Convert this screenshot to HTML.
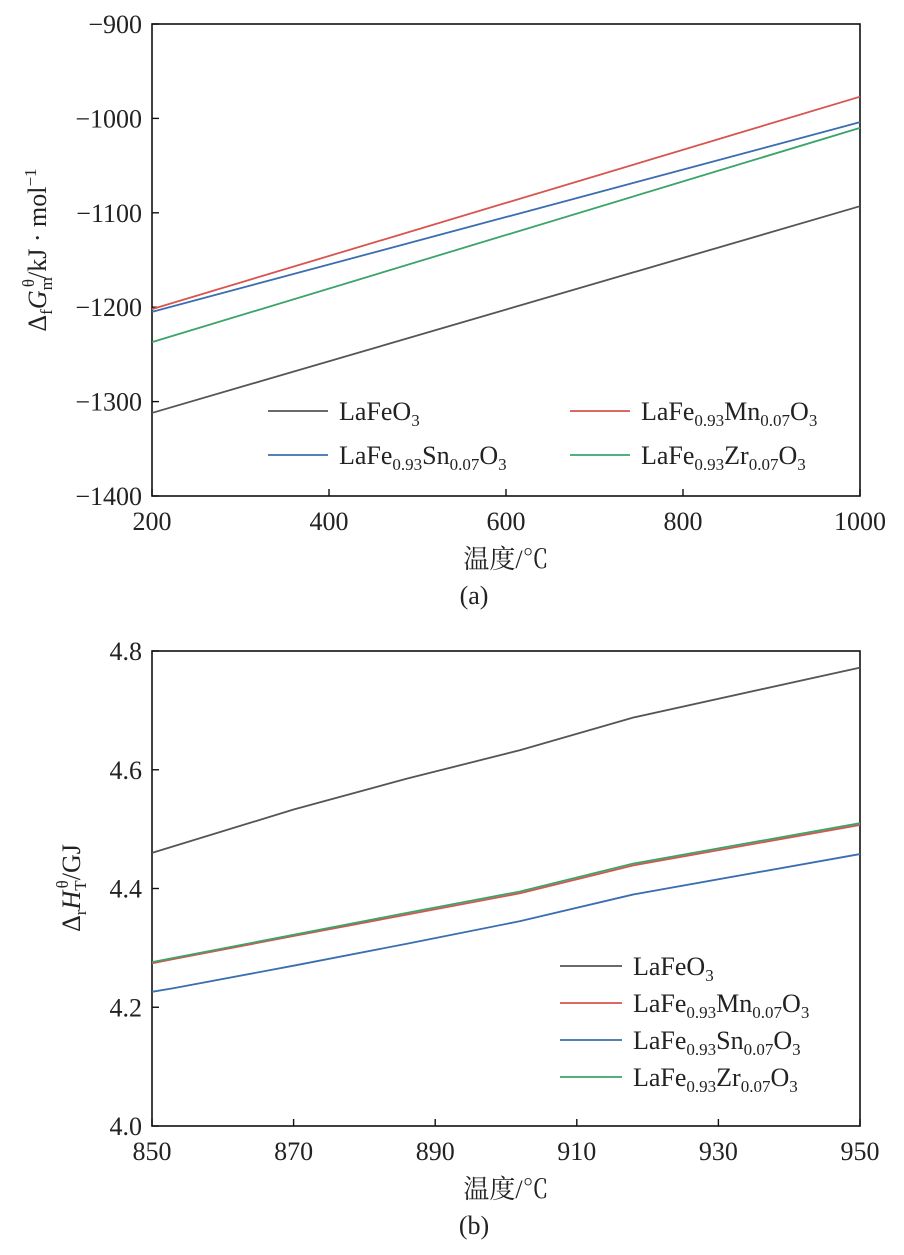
<!DOCTYPE html>
<html><head><meta charset="utf-8"><style>
body{margin:0;background:#fff}
svg{display:block;font-family:"Liberation Serif","Noto Serif CJK SC",serif}
text{fill:#222}
</style></head><body>
<svg width="904" height="1255">
<g id="ga"></g>
<g id="gb"></g>
</svg>
<script>
const NS="http://www.w3.org/2000/svg";
const colors=["#555555","#d9534f","#3a6eb0","#3aa46a"];
const seriesNames=["LaFeO","LaFe0.93Mn0.07O","LaFe0.93Sn0.07O","LaFe0.93Zr0.07O"];
// chart a
const aX=[200,1000];
const aLaFe=[-1312,-1093];
const aMn=[-1202,-977];
const aSn=[-1205,-1004];
const aZr=[-1237,-1010];
const aXTicks=[200,400,600,800,1000];
const aYTicks=[-900,-1000,-1100,-1200,-1300,-1400];
// chart b
const bX=[850,853,870,886,902,918,950];
const bLaFe=[4.46,4.471,4.533,4.585,4.633,4.688,4.772];
const bMn=[4.274,4.281,4.32,4.356,4.392,4.439,4.507];
const bSn=[4.226,4.232,4.27,4.307,4.345,4.39,4.458];
const bZr=[4.276,4.283,4.322,4.359,4.395,4.442,4.51];
const bXTicks=[850,870,890,910,930,950];
const bYTicks=[4.0,4.2,4.4,4.6,4.8];

function el(p,t,a){const e=document.createElementNS(NS,t);for(const k in a)e.setAttribute(k,a[k]);p.appendChild(e);return e;}
function chart(g,cfg){
  const L=152,R=860,T=cfg.T,B=cfg.B;
  const sx=v=>L+(v-cfg.x0)/(cfg.x1-cfg.x0)*(R-L);
  const sy=v=>B-(v-cfg.y0)/(cfg.y1-cfg.y0)*(B-T);
  const fr=el(g,"rect",{x:L,y:T,width:R-L,height:B-T,fill:"none",stroke:"#111","stroke-width":1.6});
  
  cfg.xt.forEach(v=>{const x=sx(v);el(g,"line",{x1:x,x2:x,y1:B,y2:B-7,stroke:"#111","stroke-width":1.4});
    const t=el(g,"text",{x:x,y:B+34,"font-size":26,"text-anchor":"middle"});t.textContent=v;
    });
  cfg.yt.forEach(v=>{const y=sy(v);el(g,"line",{x1:L,x2:L+7,y1:y,y2:y,stroke:"#111","stroke-width":1.4});
    const t=el(g,"text",{x:L-10,y:y+9,"font-size":26,"text-anchor":"end"});t.textContent=cfg.fmt(v);
    });
  cfg.series.forEach((s,i)=>{
    const pts=cfg.xs.map((x,j)=>sx(x)+","+sy(s[j])).join(" ");
    const pl=el(g,"polyline",{points:pts,fill:"none",stroke:colors[i],"stroke-width":1.8});
    
  });
  const xl=el(g,"text",{x:506,y:B+72,"font-size":26,"text-anchor":"middle"});xl.textContent="温度/℃";
  
  const cp=el(g,"text",{x:474,y:B+108,"font-size":26,"text-anchor":"middle"});cp.textContent=cfg.cap;
  
}
function legendText(t,name){
  if(name==="LaFeO"){t.innerHTML='LaFeO<tspan font-size="17" dy="6">3</tspan>';return;}
  const el2=name.slice(8,10);
  t.innerHTML='LaFe<tspan font-size="17" dy="6">0.93</tspan><tspan dy="-6">'+el2+'</tspan><tspan font-size="17" dy="6">0.07</tspan><tspan dy="-6">O</tspan><tspan font-size="17" dy="6">3</tspan>';
}
const ga=document.getElementById("ga"),gb=document.getElementById("gb");
chart(ga,{T:24,B:496,x0:200,x1:1000,y0:-1400,y1:-900,xt:aXTicks,yt:aYTicks,xs:aX,series:[aLaFe,aMn,aSn,aZr],fmt:v=>"\u2212"+Math.abs(v),cap:"(a)"});
chart(gb,{T:651,B:1126,x0:850,x1:950,y0:4.0,y1:4.8,xt:bXTicks,yt:bYTicks,xs:bX,series:[bLaFe,bMn,bSn,bZr],fmt:v=>v.toFixed(1),cap:"(b)"});
const la=[[268,411],[570,411],[268,455],[570,455]];
[0,1,2,3].forEach(i=>{const [x,y]=la[i];
  el(ga,"line",{x1:x,x2:x+60,y1:y,y2:y,stroke:colors[i],"stroke-width":1.8});
  const t=el(ga,"text",{x:x+71,y:y+9,"font-size":26});legendText(t,seriesNames[i]);
  });
[0,1,2,3].forEach(i=>{const y=966+i*37;
  el(gb,"line",{x1:560,x2:622,y1:y,y2:y,stroke:colors[i],"stroke-width":1.8});
  const t=el(gb,"text",{x:633,y:y+9,"font-size":26});legendText(t,seriesNames[i]);
  });
const ya=el(ga,"text",{transform:"translate(46,250) rotate(-90)","font-size":26,"text-anchor":"middle"});
ya.innerHTML='Δ<tspan font-size="17" dy="6">f</tspan><tspan dy="-6" font-style="italic">G</tspan><tspan font-size="17" dy="6">m</tspan><tspan font-size="17" dx="-10" dy="-18">θ</tspan><tspan dy="12">/kJ · mol</tspan><tspan font-size="17" dy="-10">−1</tspan>';

const yb=el(gb,"text",{transform:"translate(80,888) rotate(-90)","font-size":26,"text-anchor":"middle"});
yb.innerHTML='Δ<tspan font-size="17" dy="6">r</tspan><tspan dy="-6" font-style="italic">H</tspan><tspan font-size="17" dy="6">T</tspan><tspan font-size="17" dx="-8" dy="-18">θ</tspan><tspan dy="12">/GJ</tspan>';

</script>
</body></html>
